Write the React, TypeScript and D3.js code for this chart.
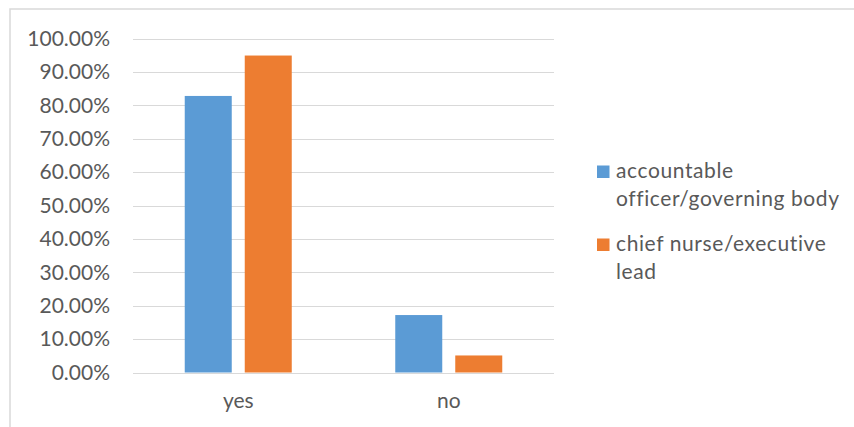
import React from 'react';
import * as d3 from 'd3';

const categories = ['yes', 'no'];
const seriesNames = ['accountable officer/governing body', 'chief nurse/executive lead'];
const legendLines = [['accountable', 'officer/governing body'], ['chief nurse/executive', 'lead']];
const accountableValues = [0.828, 0.172];
const chiefNurseValues = [0.949, 0.051];
const yTicks = [0, 0.1, 0.2, 0.3, 0.4, 0.5, 0.6, 0.7, 0.8, 0.9, 1.0];
const colors = ['#5b9bd5', '#ed7d31'];

const W = 854;
const H = 427;
const FONT = 'Lato, "Open Sans", sans-serif';
const TEXT = '#595959';

export default function App() {
  const series = [accountableValues, chiefNurseValues];
  const y = d3.scaleLinear().domain([0, 1]).range([372.5, 38.5]);
  const x0 = d3.scaleBand<string>().domain(categories).range([133, 554]).paddingInner(0.4917).paddingOuter(0.2458);
  const x1 = d3.scaleBand<number>().domain([0, 1]).range([0, x0.bandwidth()]).paddingInner(0.2167).paddingOuter(0);
  const fmt = (v: number) => (v * 100).toFixed(2) + '%';

  return (
    <svg width={W} height={H} style={{ position: 'absolute', left: 0, top: 0, background: '#fff' }}>
      <rect x={10} y={9} width={W + 20} height={H + 20} fill="#fff" stroke="#d9d9d9" strokeWidth={1.5} />
      {yTicks.map((t) => (
        <g key={t}>
          <line x1={133} x2={554} y1={Math.round(y(t)) + 0.5} y2={Math.round(y(t)) + 0.5} stroke="#d9d9d9" strokeWidth={1} />
          <text x={110} y={y(t)} dy="0.35em" textAnchor="end" fontFamily={FONT} fontSize={21} fill={TEXT}>
            {fmt(t)}
          </text>
        </g>
      ))}
      {categories.map((c, ci) => (
        <g key={c}>
          {series.map((vals, si) => (
            <rect
              key={si}
              x={(x0(c) as number) + (x1(si) as number)}
              y={y(vals[ci])}
              width={x1.bandwidth()}
              height={y(0) - y(vals[ci])}
              fill={colors[si]}
            />
          ))}
          <text x={(x0(c) as number) + x0.bandwidth() / 2} y={408} textAnchor="middle" fontFamily={FONT} fontSize={21} fill={TEXT}>
            {c}
          </text>
        </g>
      ))}
      {seriesNames.map((name, si) => {
        const baseY = 178 + si * 73;
        return (
          <g key={name}>
            <rect x={597} y={baseY - 12.5} width={12.5} height={12.5} fill={colors[si]} />
            {legendLines[si].map((ln, li) => (
              <text key={li} x={616} y={baseY + li * 28} fontFamily={FONT} fontSize={21} letterSpacing={0.6} fill={TEXT}>
                {ln}
              </text>
            ))}
          </g>
        );
      })}
    </svg>
  );
}
